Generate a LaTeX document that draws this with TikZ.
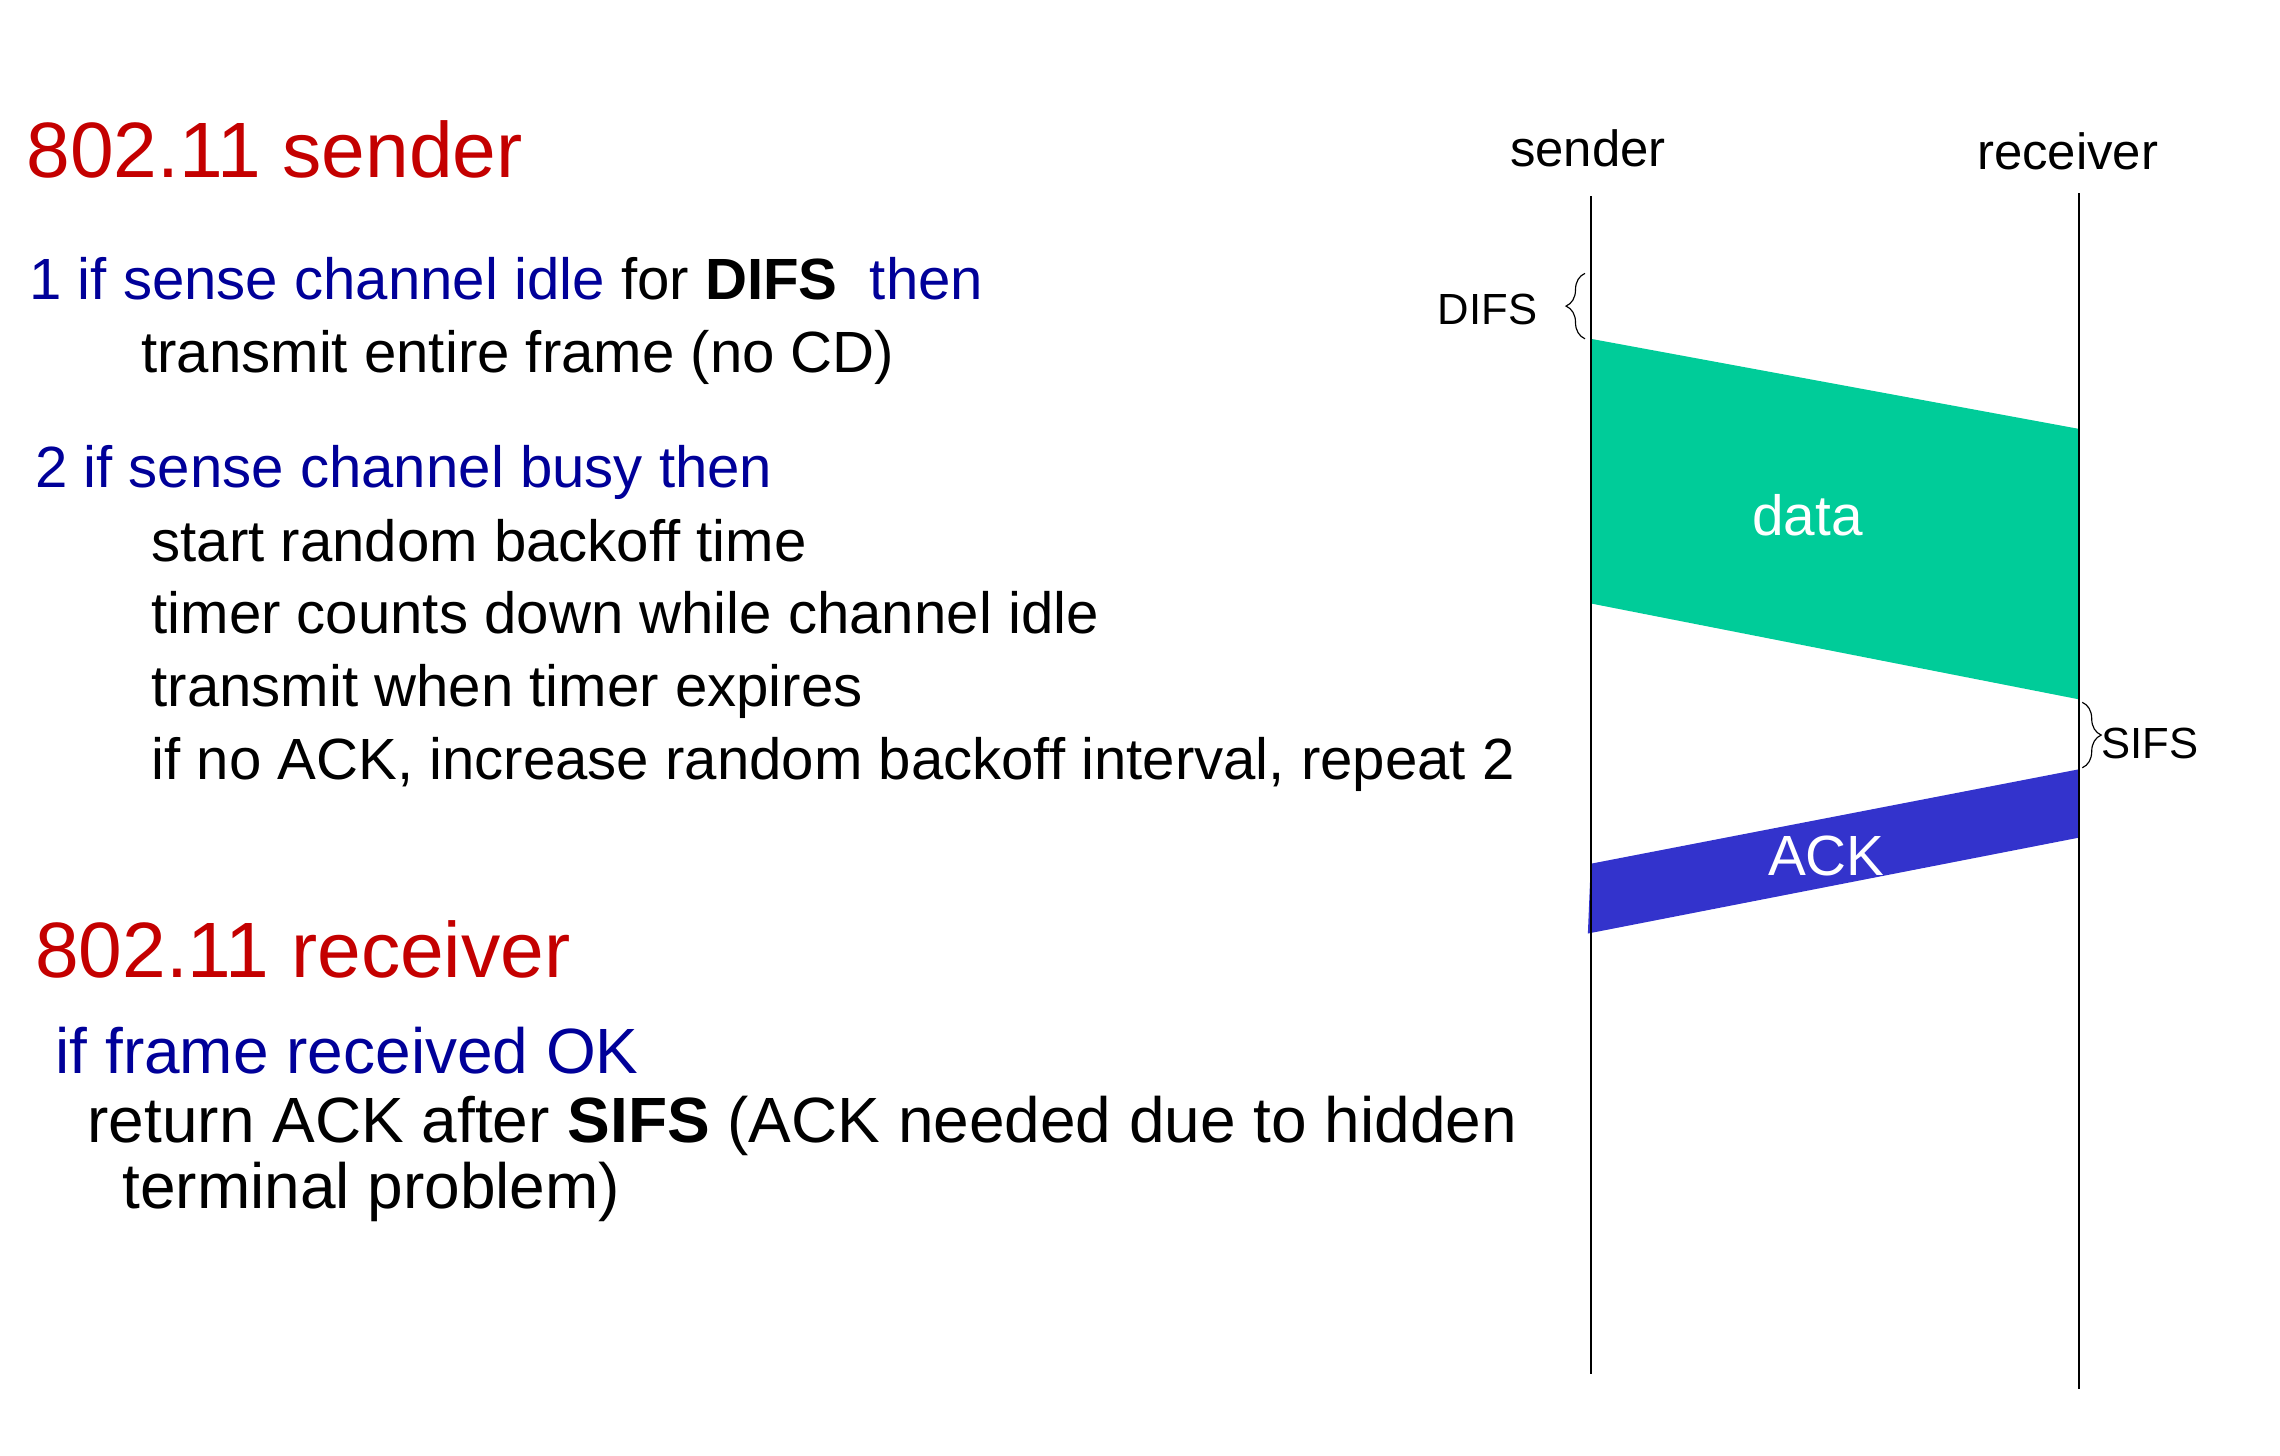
\documentclass[tikz,border=0pt]{standalone}
\usepackage{fontspec}
\setmainfont{Liberation Sans}
\usetikzlibrary{decorations.pathreplacing}
\definecolor{hdred}{RGB}{196,0,0}
\definecolor{txblue}{RGB}{0,0,153}
\definecolor{datagreen}{RGB}{0,204,153}
\definecolor{ackblue}{RGB}{51,51,204}
\begin{document}
\begin{tikzpicture}[x=1pt,y=-1pt,
  txt/.style={anchor=base west, inner sep=0pt, font=\fontsize{40}{48}\selectfont},
  rtxt/.style={anchor=base west, inner sep=0pt, font=\fontsize{44}{52}\selectfont},
  head/.style={anchor=base west, inner sep=0pt, text=hdred, font=\fontsize{54}{60}\selectfont},
  life/.style={line width=1.4pt},
  lbl/.style={inner sep=0pt, font=\fontsize{35}{40}\selectfont},
  tlbl/.style={inner sep=0pt, font=\fontsize{30}{36}\selectfont},
  msg/.style={inner sep=0pt, text=white, font=\fontsize{39}{44}\selectfont},
  brc/.style={decorate, decoration={brace, amplitude=13pt}, line width=0.8pt}
]
\useasboundingbox (0,0) rectangle (1568,1001);

% left text
\node[head] (h1) at (18,122) {802.11 sender};
\node[txt] (l1) at (20,206) {\textcolor{txblue}{1 if sense channel idle} for \textbf{DIFS}\ \ \textcolor{txblue}{then}};
\node[txt] (l2) at (97,256) {transmit entire frame (no CD)};
\node[txt, text=txblue] (l3) at (24,335) {2 if sense channel busy then};
\node[txt] (l4) at (104,386) {start random backoff time};
\node[txt] (l5) at (104,436) {timer counts down while channel idle};
\node[txt] (l6) at (104,486) {transmit when timer expires};
\node[txt] (l7) at (104,536) {if no ACK, increase random backoff interval, repeat 2};
\node[head] (h2) at (24,672) {802.11 receiver};
\node[rtxt, text=txblue] (r1) at (38,738) {if frame received OK};
\node[rtxt] (r2) at (60,786) {return ACK after \textbf{SIFS} (ACK needed due to hidden};
\node[rtxt] (r3) at (84,831) {terminal problem)};

% timing diagram
\coordinate (sTop) at (1094,135);
\coordinate (sBot) at (1094,945);
\coordinate (rTop) at (1430,133);
\coordinate (rBot) at (1430,955);
\coordinate (d1) at (1094,233);
\coordinate (d2) at (1430,295);
\coordinate (d3) at (1430,481);
\coordinate (d4) at (1094,415);
\coordinate (a1) at (1094,594);
\coordinate (a2) at (1430,529);
\coordinate (a3) at (1430,576);
\coordinate (a4) at (1092,642);

\fill[datagreen] (d1) -- (d2) -- (d3) -- (d4) -- cycle;
\fill[ackblue] (a1) -- (a2) -- (a3) -- (a4) -- cycle;

\node[lbl] (sl) at (1092,102) {sender};
\node[lbl] (rl) at (1422,104) {receiver};
\draw[life] (sTop) -- (sBot);
\draw[life] (rTop) -- (rBot);

\node[msg] (dl) at (1243,354) {data};
\node[msg] (al) at (1256,589) {ACK};

\coordinate (difsA) at (1090,233);
\coordinate (difsB) at (1090,188);
\draw[brc] (difsA) -- (difsB);
\node[tlbl] (difs) at (1023,213) {DIFS};

\coordinate (sifsA) at (1432,483);
\coordinate (sifsB) at (1432,528);
\draw[brc] (sifsA) -- (sifsB);
\node[tlbl, anchor=west] (sifs) at (1445,511) {SIFS};
\end{tikzpicture}
\end{document}
